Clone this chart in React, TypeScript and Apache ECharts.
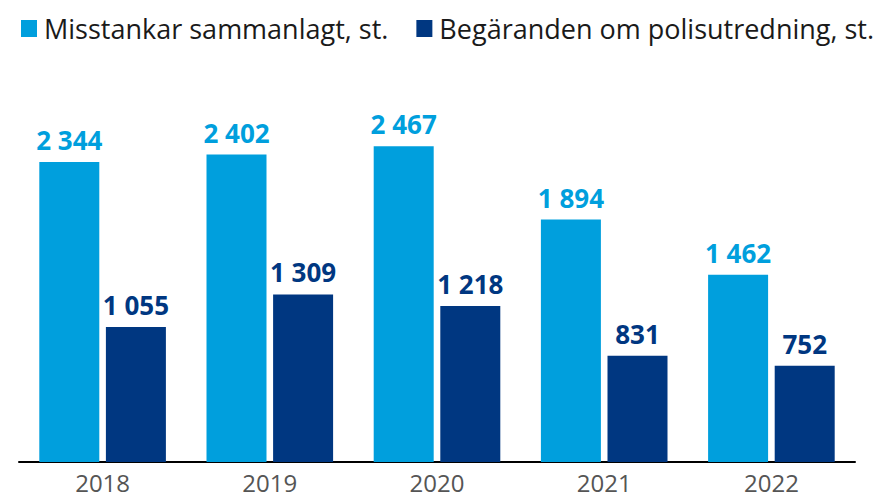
import React, { useEffect, useRef } from "react";
import * as echarts from "echarts";

const years = ["2018", "2019", "2020", "2021", "2022"];
const misstankar = [2344, 2402, 2467, 1894, 1462];
const begaranden = [1055, 1309, 1218, 831, 752];
const seriesNames = ["Misstankar sammanlagt, st.", "Begäranden om polisutredning, st."];

const LIGHT = "#009fdd";
const DARK = "#003781";
const FONT = "'Open Sans', 'Noto Sans', sans-serif";

const fmt = (v: number) => {
  const s = String(v);
  return s.length > 3 ? s.slice(0, s.length - 3) + " " + s.slice(-3) : s;
};

export default function App() {
  const ref = useRef<HTMLDivElement>(null);
  useEffect(() => {
    const chart = echarts.init(ref.current!, null, { renderer: "svg" });
    chart.setOption({
      animation: false,
      textStyle: { fontFamily: FONT },
      legend: {
        left: 16,
        top: 10,
        itemWidth: 16,
        itemHeight: 17,
        itemGap: 28,
        icon: "rect",
        textStyle: { fontSize: 27, color: "#1a1a1a", fontFamily: FONT, padding: [0, 0, 0, 2] },
        data: seriesNames,
      },
      grid: { left: 19, right: 34, top: 78, bottom: 35, containLabel: false },
      xAxis: {
        type: "category",
        data: years,
        axisLine: { show: true, lineStyle: { color: "#000", width: 2 } },
        axisTick: { show: false },
        axisLabel: { fontSize: 24, color: "#555", margin: 8, fontFamily: FONT },
      },
      yAxis: {
        type: "value",
        min: 0,
        max: 3000,
        show: false,
        splitLine: { show: false },
      },
      series: [
        {
          name: seriesNames[0],
          type: "bar",
          data: misstankar,
          barWidth: 60,
          barGap: "11%",
          itemStyle: { color: LIGHT },
          label: {
            show: true,
            position: "top",
            distance: 9,
            color: LIGHT,
            fontSize: 26,
            fontWeight: "bold",
            fontFamily: FONT,
            formatter: (p: any) => fmt(p.value),
          },
        },
        {
          name: seriesNames[1],
          type: "bar",
          data: begaranden,
          barWidth: 60,
          barGap: "11%",
          itemStyle: { color: DARK },
          label: {
            show: true,
            position: "top",
            distance: 9,
            color: DARK,
            fontSize: 26,
            fontWeight: "bold",
            fontFamily: FONT,
            formatter: (p: any) => fmt(p.value),
          },
        },
      ],
    });
    return () => chart.dispose();
  }, []);
  return <div ref={ref} style={{ width: 889, height: 497, position: "absolute", left: 0, top: 0 }} />;
}
